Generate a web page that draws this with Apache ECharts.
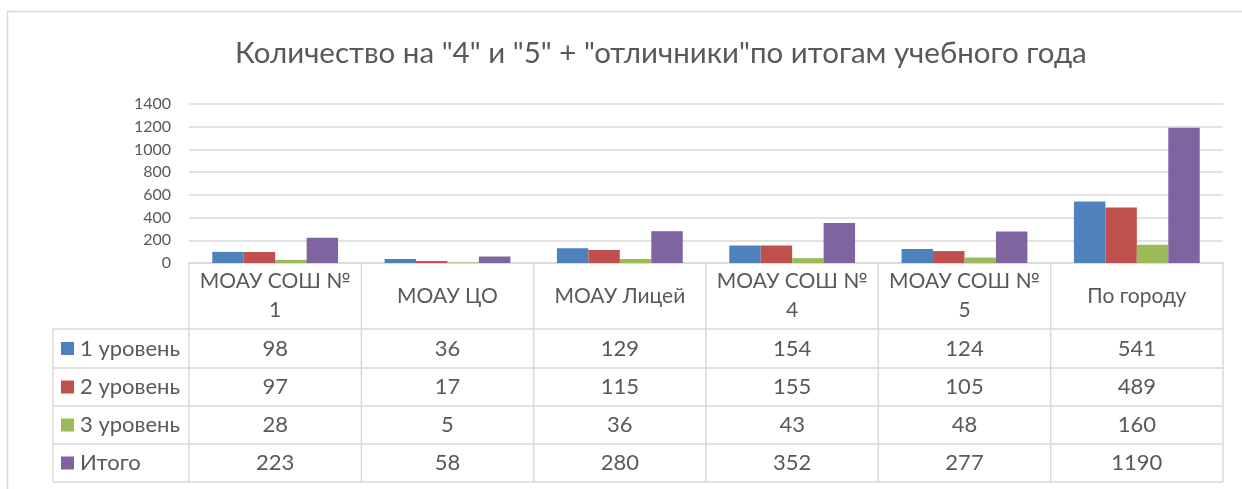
<!DOCTYPE html>
<html><head><meta charset="utf-8">
<script src="https://cdn.jsdelivr.net/npm/echarts@6/dist/echarts.min.js"></script>
<style>html,body{margin:0;padding:0;background:#fff}#c{width:1242px;height:489px}</style>
</head><body><div id="c"></div>
<script>
const title = 'Количество на "4" и "5" + "отличники"по итогам учебного года';
const categories = ['МОАУ СОШ № 1', 'МОАУ ЦО', 'МОАУ Лицей', 'МОАУ СОШ № 4', 'МОАУ СОШ № 5', 'По городу'];
const seriesNames = ['1 уровень', '2 уровень', '3 уровень', 'Итого'];
const level1 = [98, 36, 129, 154, 124, 541];
const level2 = [97, 17, 115, 155, 105, 489];
const level3 = [28, 5, 36, 43, 48, 160];
const total = [223, 58, 280, 352, 277, 1190];
const yTicks = [0, 200, 400, 600, 800, 1000, 1200, 1400];

const colors = ['#4F81BD', '#C0504D', '#9BBB59', '#8064A2'];
const values = [level1, level2, level3, total];
const FONT = 'Lato';
const TXT = '#595959';
const LINE = '#d9d9d9';

const chart = echarts.init(document.getElementById('c'), null, {renderer: 'canvas'});
const gridL = 189, gridR = 1223, gridT = 104, gridB = 263;
chart.setOption({
  animation: false,
  color: colors,
  title: {text: title, left: 230, top: 33, textStyle: {fontFamily: FONT, fontSize: 29.5, fontWeight: 'normal', color: TXT}},
  grid: {left: gridL, right: 1242 - gridR, top: gridT, height: gridB - gridT, containLabel: false},
  xAxis: {
    type: 'category', data: categories,
    axisLine: {show: true, lineStyle: {color: LINE, width: 1.5}},
    axisTick: {show: false},
    axisLabel: {
      interval: 0, fontFamily: FONT, fontSize: 21, color: TXT, margin: 33, verticalAlign: 'middle', lineHeight: 29, align: 'center',
      formatter: v => v.replace(/№ (\d)/, '№\n$1')
    }
  },
  yAxis: {
    type: 'value', min: yTicks[0], max: yTicks[yTicks.length - 1], interval: yTicks[1] - yTicks[0],
    axisLine: {show: false}, axisTick: {show: false},
    axisLabel: {fontFamily: FONT, fontSize: 16, color: TXT, margin: 18, formatter: v => String(v)},
    splitLine: {lineStyle: {color: LINE, width: 1.5}}
  },
  series: seriesNames.map((n, i) => ({
    name: n, type: 'bar', data: values[i], barGap: '0%', barCategoryGap: '27%',
    itemStyle: {color: colors[i]}
  }))
});

// data table below the axis
const c0 = chart.convertToPixel({xAxisIndex: 0}, 0);
const c1 = chart.convertToPixel({xAxisIndex: 0}, 1);
const half = (c1 - c0) / 2;
const rowTops = [329, 368, 406, 444, 482];
const tableLeft = 53, tableTop = 263;
const g = [];
const ln = (x1, y1, x2, y2) => g.push({type: 'line', shape: {x1, y1, x2, y2}, style: {stroke: LINE, lineWidth: 1.5}, silent: true});
g.push({type: 'rect', shape: {x: 7.5, y: 11.5, width: 1260, height: 500}, style: {fill: 'none', stroke: LINE, lineWidth: 1.5}, silent: true});
rowTops.forEach(y => ln(tableLeft, y, gridR, y));
ln(tableLeft, rowTops[0], tableLeft, rowTops[rowTops.length - 1]);
for (let i = 0; i <= categories.length; i++) {
  const x = c0 - half + i * 2 * half;
  ln(x, tableTop, x, rowTops[rowTops.length - 1]);
}
seriesNames.forEach((n, r) => {
  const cy = (rowTops[r] + rowTops[r + 1]) / 2;
  g.push({type: 'rect', shape: {x: 61, y: cy - 6.5, width: 13, height: 13}, style: {fill: colors[r]}, silent: true});
  g.push({type: 'text', x: 80, y: cy, style: {text: n, fontFamily: FONT, fontSize: 22, fill: TXT, textAlign: 'left', textVerticalAlign: 'middle'}, silent: true});
  values[r].forEach((v, i) => {
    const cx = chart.convertToPixel({xAxisIndex: 0}, i);
    g.push({type: 'text', x: cx, y: cy, style: {text: String(v), fontFamily: FONT, fontSize: 22, fill: TXT, textAlign: 'center', textVerticalAlign: 'middle'}, silent: true});
  });
});
chart.setOption({graphic: {elements: g}});
</script></body></html>
